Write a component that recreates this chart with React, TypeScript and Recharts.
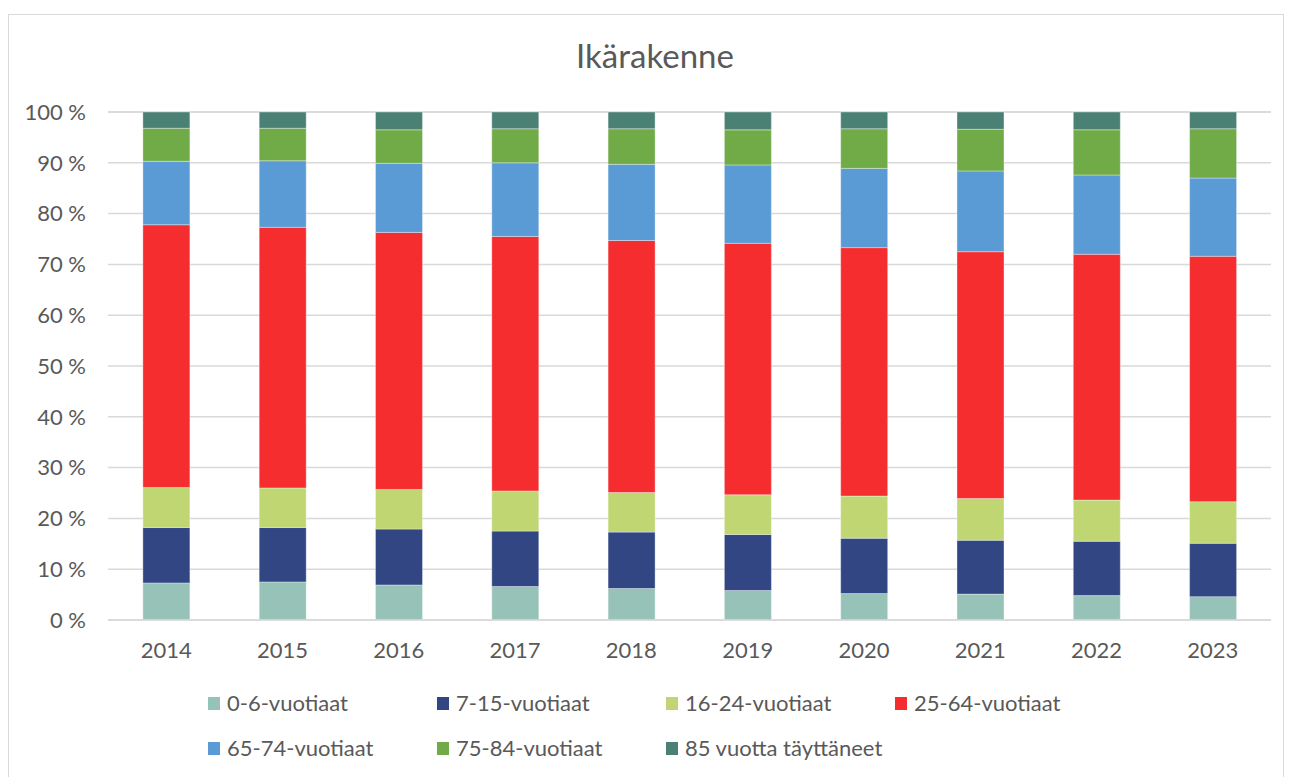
import { Bar, BarChart, CartesianGrid, XAxis, YAxis } from "recharts";

const YEARS = ["2014", "2015", "2016", "2017", "2018", "2019", "2020", "2021", "2022", "2023"];

const AGE_0_6 = [7.3, 7.5, 6.9, 6.6, 6.2, 5.8, 5.2, 5.1, 4.8, 4.6];
const AGE_7_15 = [10.9, 10.7, 11.0, 10.9, 11.1, 11.0, 10.9, 10.6, 10.7, 10.5];
const AGE_16_24 = [7.9, 7.8, 7.8, 7.9, 7.8, 7.8, 8.3, 8.2, 8.1, 8.2];
const AGE_25_64 = [51.7, 51.3, 50.6, 50.1, 49.6, 49.4, 48.9, 48.6, 48.4, 48.3];
const AGE_65_74 = [12.5, 13.1, 13.6, 14.5, 15.0, 15.4, 15.6, 15.9, 15.6, 15.4];
const AGE_75_84 = [6.5, 6.4, 6.6, 6.7, 7.0, 6.9, 7.8, 8.2, 8.9, 9.7];
const AGE_85 = [3.2, 3.2, 3.5, 3.3, 3.3, 3.5, 3.3, 3.4, 3.5, 3.3];

const Y_TICKS = [0, 10, 20, 30, 40, 50, 60, 70, 80, 90, 100];

const SERIES = [
  { key: "a0", name: "0-6-vuotiaat", color: "#96c2b8", values: AGE_0_6 },
  { key: "a7", name: "7-15-vuotiaat", color: "#314682", values: AGE_7_15 },
  { key: "a16", name: "16-24-vuotiaat", color: "#bfd673", values: AGE_16_24 },
  { key: "a25", name: "25-64-vuotiaat", color: "#f52d2e", values: AGE_25_64 },
  { key: "a65", name: "65-74-vuotiaat", color: "#5a9bd5", values: AGE_65_74 },
  { key: "a75", name: "75-84-vuotiaat", color: "#71ab48", values: AGE_75_84 },
  { key: "a85", name: "85 vuotta täyttäneet", color: "#4a8174", values: AGE_85 },
];

// normalise each year to 100 % (stacked percent chart)
const data = YEARS.map((year, i) => {
  const total = SERIES.reduce((s, ser) => s + ser.values[i], 0);
  const row: Record<string, string | number> = { year };
  SERIES.forEach((ser) => {
    row[ser.key] = (ser.values[i] / total) * 100;
  });
  return row;
});

const FONT = "Lato, 'Open Sans', sans-serif";
const TEXT = "#595959";

export default function App() {
  return (
    <div
      style={{
        position: "absolute",
        left: 8,
        top: 14,
        width: 1274,
        height: 770,
        border: "1px solid #d9d9d9",
        background: "#fff",
        fontFamily: FONT,
      }}
    >
      <div
        style={{
          position: "absolute",
          top: 24,
          left: 18,
          right: 0,
          textAlign: "center",
          fontSize: 33,
          lineHeight: "33px",
          color: TEXT,
        }}
      >
        Ikärakenne
      </div>
      <BarChart
        width={1274}
        height={676}
        data={data}
        margin={{ top: 97, right: 12, bottom: 41, left: 0 }}
        barCategoryGap="30%"
      >
        <CartesianGrid vertical={false} stroke="#d9d9d9" strokeWidth={1.5} />
        <XAxis
          dataKey="year"
          tickLine={false}
          axisLine={{ stroke: "#d9d9d9", strokeWidth: 1.5 }}
          tickSize={0}
          tickMargin={22}
          tick={{ fill: TEXT, fontSize: 22, fontFamily: FONT }}
        />
        <YAxis
          type="number"
          domain={[0, 100]}
          ticks={Y_TICKS}
          width={99}
          tickLine={false}
          axisLine={false}
          tickSize={0}
          tickMargin={22}
          tickFormatter={(v) => `${v} %`}
          tick={{ fill: TEXT, fontSize: 22, fontFamily: FONT }}
        />
        {SERIES.map((s) => (
          <Bar
            key={s.key}
            dataKey={s.key}
            name={s.name}
            stackId="age"
            fill={s.color}
            stroke="rgba(255,255,255,0.35)"
            strokeWidth={1}
            isAnimationActive={false}
          />
        ))}
      </BarChart>
      <div
        style={{
          position: "absolute",
          left: 199,
          top: 675,
          width: 940,
          display: "flex",
          flexWrap: "wrap",
          rowGap: 19,
        }}
      >
        {SERIES.map((s) => (
          <div
            key={s.key}
            style={{
              width: 229,
              display: "flex",
              alignItems: "center",
              fontSize: 22,
              color: TEXT,
              lineHeight: "26px",
            }}
          >
            <span
              style={{
                display: "inline-block",
                width: 12,
                height: 13,
                background: s.color,
                marginRight: 7,
              }}
            />
            {s.name}
          </div>
        ))}
      </div>
    </div>
  );
}
